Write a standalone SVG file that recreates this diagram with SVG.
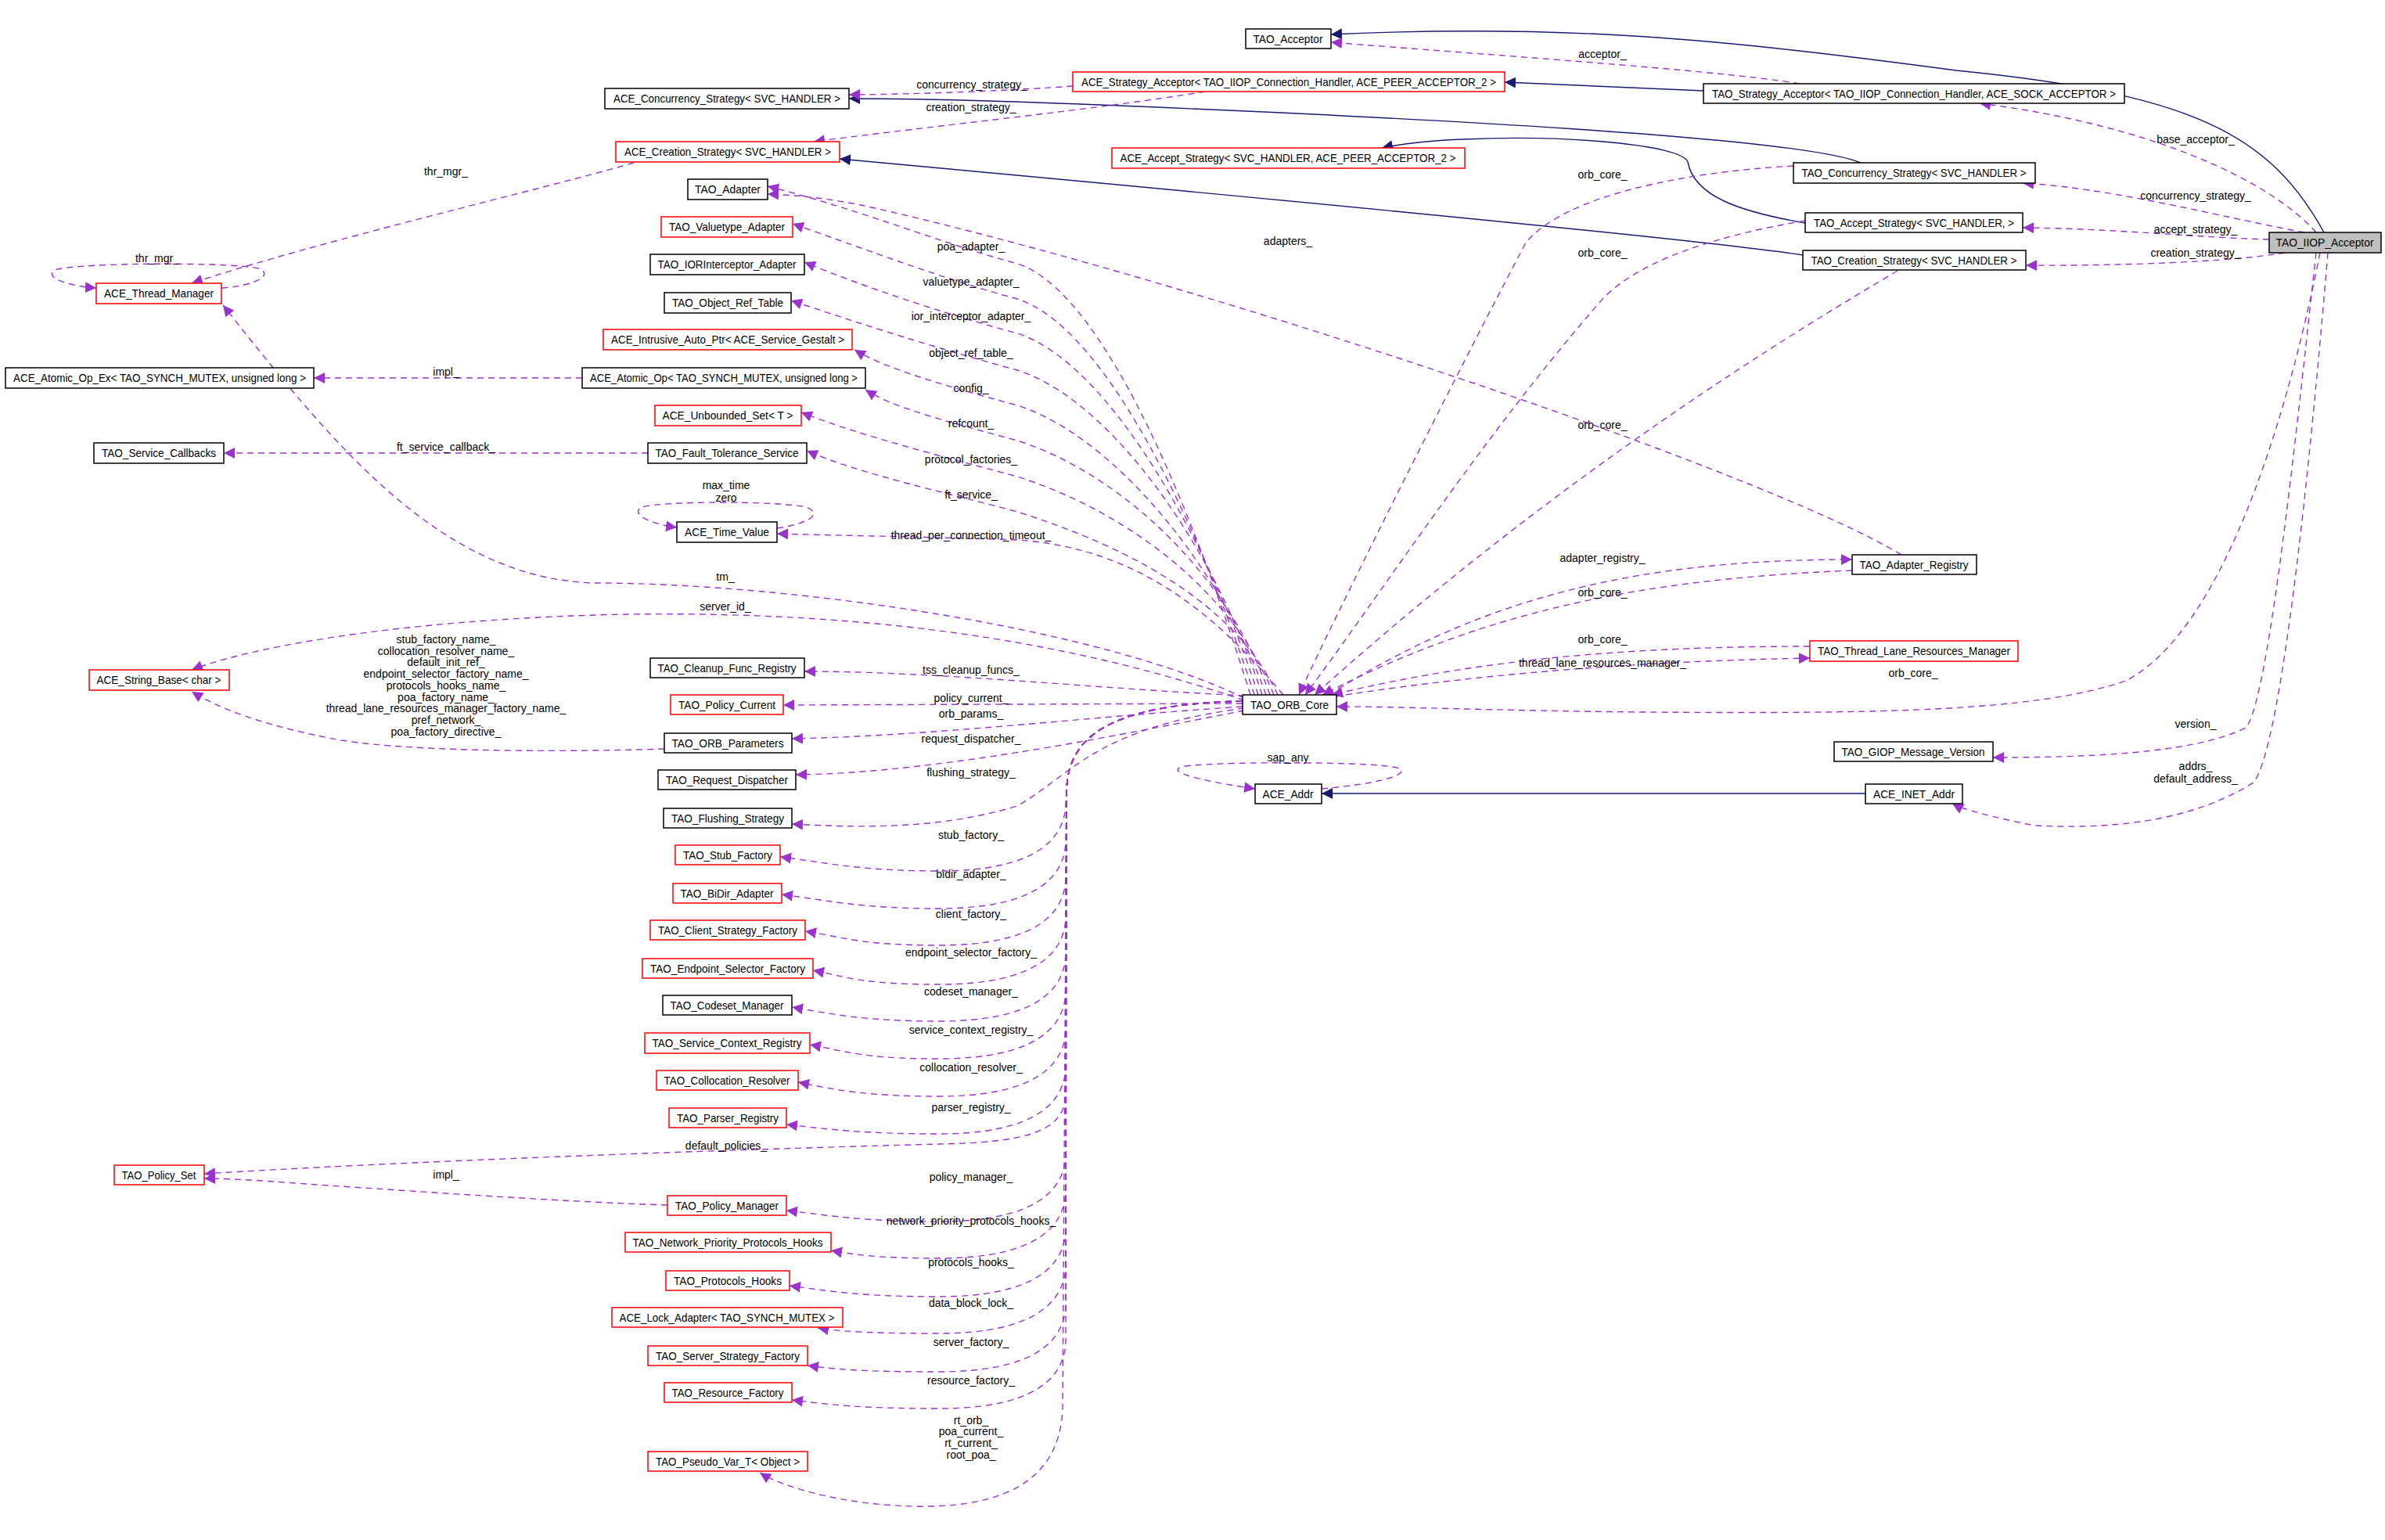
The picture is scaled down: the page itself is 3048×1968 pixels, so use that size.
<svg xmlns="http://www.w3.org/2000/svg" width="3048" height="1968" viewBox="0 0 3048 1968">
<style>
.n rect{fill:#fff;stroke:#000;stroke-width:1.5}
.n.r rect{stroke:#f00}
.n.g rect{fill:#bfbfbf}
.n text{font-family:"Liberation Sans",Arial,sans-serif;font-size:15px;fill:#000;text-anchor:middle}
.e path{fill:none}
.d{stroke:#9a32cd;stroke-width:1.4;stroke-dasharray:8,6;marker-end:url(#ap)}
.s{stroke:#191970;stroke-width:1.4;marker-end:url(#an)}
.l{font-family:"Liberation Sans",Arial,sans-serif;font-size:14px;fill:#000;text-anchor:middle}
</style>
<defs>
<marker id="ap" viewBox="0 0 10 10" refX="10" refY="5" markerWidth="14" markerHeight="14" markerUnits="userSpaceOnUse" orient="auto"><path d="M0,0L10,5L0,10z" fill="#9a32cd"/></marker>
<marker id="an" viewBox="0 0 10 10" refX="10" refY="5" markerWidth="14" markerHeight="14" markerUnits="userSpaceOnUse" orient="auto"><path d="M0,0L10,5L0,10z" fill="#191970"/></marker>
</defs>
<rect width="3048" height="1968" fill="#fff"/>
<g id="edges" class="e">
<path class="s" d="M2970,297 C2900,170 2800,120 2500,90 C2200,50 2000,30 1701,44"/>
<path class="s" d="M2177,116 L1923,105"/>
<path class="s" d="M2378,208 C2300,175 1800,150 1380,133 C1250,128 1150,126 1085,126"/>
<path class="s" d="M2307,285 C2220,270 2165,250 2157,207 C2150,185 2000,172 1870,178 C1820,180 1790,184 1766,189"/>
<path class="s" d="M2304,326 C2200,310 1800,270 1073,203"/>
<path class="s" d="M2384,1014 L1689,1014"/>
<path class="d" d="M2300,107 C2200,90 1900,70 1701,54"/>
<path class="d" d="M1371,110 C1300,115 1200,120 1085,121"/>
<path class="d" d="M1540,117 C1400,140 1200,160 1040,181"/>
<path class="d" d="M2960,297 C2900,230 2750,160 2530,132"/>
<path class="d" d="M2945,297 C2850,280 2700,240 2585,234"/>
<path class="d" d="M2900,306 C2800,303 2700,292 2585,291"/>
<path class="d" d="M2920,323 C2850,335 2700,340 2589,339"/>
<path class="d" d="M2292,212 C2150,220 2000,250 1950,310 C1850,500 1700,800 1660,888"/>
<path class="d" d="M2307,282 C2200,300 2100,330 2050,380 C1900,550 1750,780 1668,888"/>
<path class="d" d="M2425,346 C2300,420 2000,600 1680,888"/>
<path class="d" d="M2430,709 C2250,600 1500,350 1100,262 Q1040,250 981,248"/>
<path class="d" d="M1698,888 C1900,760 2100,715 2367,715"/>
<path class="d" d="M2367,729 C2100,740 1900,780 1690,888"/>
<path class="d" d="M2313,826 C2100,826 1900,840 1702,888"/>
<path class="d" d="M1706,890 C1900,860 2100,845 2313,841"/>
<path class="d" d="M2965,323 C2930,500 2850,800 2717,870 C2600,910 2400,912 2100,910 C1900,908 1800,903 1708,903"/>
<path class="d" d="M2960,323 C2940,500 2900,900 2870,930 C2800,965 2650,968 2547,968"/>
<path class="d" d="M2975,323 C2960,500 2920,950 2880,1000 C2800,1050 2700,1060 2600,1055 C2550,1045 2510,1035 2495,1027"/>
<path class="d" d="M1689,1008 C1780,1000 1810,985 1780,980 C1740,973 1540,973 1510,980 C1485,988 1560,1002 1604,1008"/>
<path class="d" d="M1598,888 C1540,700 1420,375 1300,337 C1200,310 1100,268 981,238"/>
<path class="d" d="M1603,888 C1543,700 1420,420 1300,382 C1200,355 1100,316 1013,286"/>
<path class="d" d="M1608,888 C1548,700 1420,464 1300,426 C1200,399 1100,365 1028,335"/>
<path class="d" d="M1613,888 C1553,700 1420,511 1300,473 C1200,446 1100,414 1011,384"/>
<path class="d" d="M1618,888 C1558,720 1420,556 1300,518 C1200,491 1130,470 1092,447"/>
<path class="d" d="M1623,888 C1563,720 1420,601 1300,563 C1200,536 1140,520 1106,498"/>
<path class="d" d="M1628,888 C1568,740 1420,647 1300,609 C1200,582 1100,557 1024,527"/>
<path class="d" d="M1633,888 C1573,760 1420,692 1300,654 C1200,627 1100,606 1031,576"/>
<path class="d" d="M1640,888 C1550,780 1450,700 1300,690 C1150,685 1050,684 993,682"/>
<path class="d" d="M993,675 C1040,668 1050,655 1030,648 C990,640 850,640 820,648 C805,656 830,670 865,674"/>
<path class="d" d="M744,483 L401,483"/>
<path class="d" d="M828,579 L286,579"/>
<path class="d" d="M810,208 C700,240 400,310 245,362"/>
<path class="d" d="M283,368 C330,365 350,350 330,343 C300,335 100,335 70,345 C55,355 90,366 123,368"/>
<path class="d" d="M1590,892 C1400,800 1000,745 760,745 C560,740 420,560 285,390"/>
<path class="d" d="M1590,895 C1400,830 1150,780 800,785 C550,790 340,820 245,856"/>
<path class="d" d="M849,957 C700,962 500,960 420,943 C330,925 280,905 245,884"/>
<path class="d" d="M1590,889 C1400,880 1200,858 1028,858"/>
<path class="d" d="M1588,899 L1001,901"/>
<path class="d" d="M1588,903 C1400,915 1200,940 1012,944"/>
<path class="d" d="M1590,908 C1450,935 1200,988 1017,990"/>
<path class="d" d="M1590,905 C1400,930 1370,990 1300,1030 C1200,1060 1100,1058 1012,1053"/>
<path class="d" d="M1588,896 C1420,900 1365,940 1363,1010 L1362,1025 C1362,1075 1320,1113 1200,1113 C1100,1113 1060,1103 997,1095"/>
<path class="d" d="M1588,896 C1420,900 1365,940 1363,1010 L1362,1073 C1362,1123 1320,1161 1200,1161 C1100,1161 1060,1151 999,1143"/>
<path class="d" d="M1588,896 C1420,900 1365,940 1363,1010 L1362,1120 C1362,1170 1320,1208 1200,1208 C1100,1208 1080,1198 1029,1190"/>
<path class="d" d="M1588,896 C1420,900 1365,940 1363,1010 L1362,1170 C1362,1220 1320,1258 1200,1258 C1100,1258 1080,1248 1039,1240"/>
<path class="d" d="M1588,896 C1420,900 1365,940 1363,1010 L1362,1217 C1362,1267 1320,1305 1200,1305 C1100,1305 1060,1295 1012,1287"/>
<path class="d" d="M1588,896 C1420,900 1365,940 1363,1010 L1362,1265 C1362,1315 1320,1353 1200,1353 C1100,1353 1080,1343 1035,1335"/>
<path class="d" d="M1588,896 C1420,900 1365,940 1363,1010 L1362,1313 C1362,1363 1320,1401 1200,1401 C1100,1401 1060,1391 1020,1383"/>
<path class="d" d="M1588,896 C1420,900 1365,940 1363,1010 L1362,1361 C1362,1411 1320,1449 1200,1449 C1100,1449 1060,1443 1005,1437"/>
<path class="d" d="M1588,896 C1420,900 1365,940 1363,1010 L1362,1400 C1360,1450 1300,1460 1200,1462 C900,1470 500,1485 261,1500"/>
<path class="d" d="M853,1540 C700,1535 500,1520 420,1515 C350,1510 300,1506 261,1506"/>
<path class="d" d="M1588,896 C1420,900 1365,940 1363,1010 L1362,1473 C1362,1523 1320,1561 1200,1561 C1100,1561 1060,1553 1005,1547"/>
<path class="d" d="M1588,896 C1420,900 1365,940 1363,1010 L1362,1520 C1362,1570 1320,1608 1200,1608 C1120,1608 1090,1603 1062,1598"/>
<path class="d" d="M1588,896 C1420,900 1365,940 1363,1010 L1362,1569 C1362,1619 1320,1657 1200,1657 C1100,1657 1060,1650 1009,1643"/>
<path class="d" d="M1588,896 C1420,900 1365,940 1363,1010 L1362,1615 C1362,1665 1320,1704 1200,1704 C1110,1704 1070,1701 1045,1697"/>
<path class="d" d="M1588,896 C1420,900 1365,940 1363,1010 L1362,1665 C1362,1715 1320,1753 1200,1753 C1100,1753 1070,1750 1032,1745"/>
<path class="d" d="M1588,896 C1420,900 1365,940 1363,1010 L1362,1712 C1362,1762 1320,1800 1200,1800 C1100,1800 1060,1795 1012,1789"/>
<path class="d" d="M1588,896 C1420,900 1365,940 1363,1010 L1358,1800 C1355,1880 1300,1925 1180,1925 C1080,1925 1000,1900 971,1882"/>
</g>
<g id="labels">
<text class="l" x="2048" y="74">acceptor_</text>
<text class="l" x="1242" y="113">concurrency_strategy_</text>
<text class="l" x="1241" y="142">creation_strategy_</text>
<text class="l" x="2806" y="183">base_acceptor_</text>
<text class="l" x="2806" y="255">concurrency_strategy_</text>
<text class="l" x="2806" y="298">accept_strategy_</text>
<text class="l" x="2806" y="328">creation_strategy_</text>
<text class="l" x="2048" y="228">orb_core_</text>
<text class="l" x="2048" y="328">orb_core_</text>
<text class="l" x="2048" y="548">orb_core_</text>
<text class="l" x="1646" y="313">adapters_</text>
<text class="l" x="1241" y="320">poa_adapter_</text>
<text class="l" x="1241" y="365">valuetype_adapter_</text>
<text class="l" x="1241" y="409">ior_interceptor_adapter_</text>
<text class="l" x="1241" y="456">object_ref_table_</text>
<text class="l" x="1241" y="501">config_</text>
<text class="l" x="1241" y="546">refcount_</text>
<text class="l" x="1241" y="592">protocol_factories_</text>
<text class="l" x="1241" y="637">ft_service_</text>
<text class="l" x="1241" y="689">thread_per_connection_timeout_</text>
<text class="l" x="570" y="224">thr_mgr_</text>
<text class="l" x="201" y="335">thr_mgr_</text>
<text class="l" x="570" y="480">impl_</text>
<text class="l" x="570" y="576">ft_service_callback_</text>
<text class="l" x="928" y="625">max_time</text>
<text class="l" x="928" y="641">zero</text>
<text class="l" x="927" y="742">tm_</text>
<text class="l" x="927" y="780">server_id_</text>
<text class="l" x="570" y="822">stub_factory_name_</text>
<text class="l" x="570" y="837">collocation_resolver_name_</text>
<text class="l" x="570" y="851">default_init_ref_</text>
<text class="l" x="570" y="866">endpoint_selector_factory_name_</text>
<text class="l" x="570" y="881">protocols_hooks_name_</text>
<text class="l" x="570" y="896">poa_factory_name_</text>
<text class="l" x="570" y="910">thread_lane_resources_manager_factory_name_</text>
<text class="l" x="570" y="925">pref_network_</text>
<text class="l" x="570" y="940">poa_factory_directive_</text>
<text class="l" x="1241" y="861">tss_cleanup_funcs_</text>
<text class="l" x="1241" y="897">policy_current_</text>
<text class="l" x="1241" y="917">orb_params_</text>
<text class="l" x="1241" y="949">request_dispatcher_</text>
<text class="l" x="1241" y="992">flushing_strategy_</text>
<text class="l" x="1241" y="1072">stub_factory_</text>
<text class="l" x="1241" y="1122">bidir_adapter_</text>
<text class="l" x="1241" y="1173">client_factory_</text>
<text class="l" x="1241" y="1222">endpoint_selector_factory_</text>
<text class="l" x="1241" y="1272">codeset_manager_</text>
<text class="l" x="1241" y="1321">service_context_registry_</text>
<text class="l" x="1241" y="1369">collocation_resolver_</text>
<text class="l" x="1241" y="1420">parser_registry_</text>
<text class="l" x="928" y="1469">default_policies_</text>
<text class="l" x="570" y="1506">impl_</text>
<text class="l" x="1241" y="1509">policy_manager_</text>
<text class="l" x="1241" y="1565">network_priority_protocols_hooks_</text>
<text class="l" x="1241" y="1618">protocols_hooks_</text>
<text class="l" x="1241" y="1670">data_block_lock_</text>
<text class="l" x="1241" y="1720">server_factory_</text>
<text class="l" x="1241" y="1769">resource_factory_</text>
<text class="l" x="1241" y="1820">rt_orb_</text>
<text class="l" x="1241" y="1834">poa_current_</text>
<text class="l" x="1241" y="1849">rt_current_</text>
<text class="l" x="1241" y="1864">root_poa_</text>
<text class="l" x="2048" y="718">adapter_registry_</text>
<text class="l" x="2048" y="762">orb_core_</text>
<text class="l" x="2048" y="822">orb_core_</text>
<text class="l" x="2048" y="852">thread_lane_resources_manager_</text>
<text class="l" x="2445" y="865">orb_core_</text>
<text class="l" x="2806" y="930">version_</text>
<text class="l" x="2806" y="984">addrs_</text>
<text class="l" x="2806" y="1000">default_address_</text>
<text class="l" x="1646" y="973">sap_any</text>
</g>
<g id="TAO_IIOP_Acceptor" class="n g"><rect x="2900" y="297" width="143" height="26"/><text x="2971" y="315" textLength="125" lengthAdjust="spacingAndGlyphs">TAO_IIOP_Acceptor</text></g>
<g id="TAO_Acceptor" class="n"><rect x="1592" y="37" width="109" height="25"/><text x="1646" y="55" textLength="89" lengthAdjust="spacingAndGlyphs">TAO_Acceptor</text></g>
<g id="ACE_Strategy_Acceptor" class="n r"><rect x="1371" y="92" width="552" height="25"/><text x="1647" y="110" textLength="530" lengthAdjust="spacingAndGlyphs">ACE_Strategy_Acceptor&lt; TAO_IIOP_Connection_Handler, ACE_PEER_ACCEPTOR_2 &gt;</text></g>
<g id="TAO_Strategy_Acceptor" class="n"><rect x="2177" y="107" width="538" height="25"/><text x="2446" y="125" textLength="516" lengthAdjust="spacingAndGlyphs">TAO_Strategy_Acceptor&lt; TAO_IIOP_Connection_Handler, ACE_SOCK_ACCEPTOR &gt;</text></g>
<g id="ACE_Concurrency_Strategy" class="n"><rect x="773" y="113" width="312" height="26"/><text x="929" y="131" textLength="290" lengthAdjust="spacingAndGlyphs">ACE_Concurrency_Strategy&lt; SVC_HANDLER &gt;</text></g>
<g id="ACE_Creation_Strategy" class="n r"><rect x="787" y="181" width="286" height="26"/><text x="930" y="199" textLength="264" lengthAdjust="spacingAndGlyphs">ACE_Creation_Strategy&lt; SVC_HANDLER &gt;</text></g>
<g id="ACE_Accept_Strategy" class="n r"><rect x="1421" y="189" width="451" height="26"/><text x="1646" y="207" textLength="429" lengthAdjust="spacingAndGlyphs">ACE_Accept_Strategy&lt; SVC_HANDLER, ACE_PEER_ACCEPTOR_2 &gt;</text></g>
<g id="TAO_Concurrency_Strategy" class="n"><rect x="2292" y="208" width="309" height="26"/><text x="2446" y="226" textLength="287" lengthAdjust="spacingAndGlyphs">TAO_Concurrency_Strategy&lt; SVC_HANDLER &gt;</text></g>
<g id="TAO_Accept_Strategy" class="n"><rect x="2307" y="272" width="278" height="25"/><text x="2446" y="290" textLength="256" lengthAdjust="spacingAndGlyphs">TAO_Accept_Strategy&lt; SVC_HANDLER, &gt;</text></g>
<g id="TAO_Creation_Strategy" class="n"><rect x="2304" y="320" width="285" height="25"/><text x="2446" y="338" textLength="263" lengthAdjust="spacingAndGlyphs">TAO_Creation_Strategy&lt; SVC_HANDLER &gt;</text></g>
<g id="TAO_Adapter" class="n"><rect x="879" y="229" width="102" height="26"/><text x="930" y="247" textLength="84" lengthAdjust="spacingAndGlyphs">TAO_Adapter</text></g>
<g id="TAO_Valuetype_Adapter" class="n r"><rect x="845" y="277" width="168" height="26"/><text x="929" y="295" textLength="148" lengthAdjust="spacingAndGlyphs">TAO_Valuetype_Adapter</text></g>
<g id="TAO_IORInterceptor_Adapter" class="n"><rect x="831" y="325" width="197" height="26"/><text x="929" y="343" textLength="177" lengthAdjust="spacingAndGlyphs">TAO_IORInterceptor_Adapter</text></g>
<g id="TAO_Object_Ref_Table" class="n"><rect x="849" y="374" width="162" height="26"/><text x="930" y="392" textLength="142" lengthAdjust="spacingAndGlyphs">TAO_Object_Ref_Table</text></g>
<g id="ACE_Intrusive_Auto_Ptr" class="n r"><rect x="771" y="421" width="318" height="26"/><text x="930" y="439" textLength="298" lengthAdjust="spacingAndGlyphs">ACE_Intrusive_Auto_Ptr&lt; ACE_Service_Gestalt &gt;</text></g>
<g id="ACE_Atomic_Op" class="n"><rect x="744" y="470" width="362" height="26"/><text x="925" y="488" textLength="342" lengthAdjust="spacingAndGlyphs">ACE_Atomic_Op&lt; TAO_SYNCH_MUTEX, unsigned long &gt;</text></g>
<g id="ACE_Unbounded_Set" class="n r"><rect x="837" y="518" width="187" height="26"/><text x="930" y="536" textLength="167" lengthAdjust="spacingAndGlyphs">ACE_Unbounded_Set&lt; T &gt;</text></g>
<g id="TAO_Fault_Tolerance_Service" class="n"><rect x="828" y="566" width="203" height="26"/><text x="929" y="584" textLength="183" lengthAdjust="spacingAndGlyphs">TAO_Fault_Tolerance_Service</text></g>
<g id="ACE_Time_Value" class="n"><rect x="865" y="667" width="128" height="26"/><text x="929" y="685" textLength="108" lengthAdjust="spacingAndGlyphs">ACE_Time_Value</text></g>
<g id="ACE_Thread_Manager" class="n r"><rect x="123" y="362" width="160" height="26"/><text x="203" y="380" textLength="140" lengthAdjust="spacingAndGlyphs">ACE_Thread_Manager</text></g>
<g id="ACE_Atomic_Op_Ex" class="n"><rect x="7" y="470" width="394" height="26"/><text x="204" y="488" textLength="374" lengthAdjust="spacingAndGlyphs">ACE_Atomic_Op_Ex&lt; TAO_SYNCH_MUTEX, unsigned long &gt;</text></g>
<g id="TAO_Service_Callbacks" class="n"><rect x="120" y="566" width="166" height="26"/><text x="203" y="584" textLength="146" lengthAdjust="spacingAndGlyphs">TAO_Service_Callbacks</text></g>
<g id="TAO_Adapter_Registry" class="n"><rect x="2367" y="709" width="159" height="25"/><text x="2446" y="727" textLength="139" lengthAdjust="spacingAndGlyphs">TAO_Adapter_Registry</text></g>
<g id="TAO_Thread_Lane_Resources_Manager" class="n r"><rect x="2313" y="819" width="266" height="26"/><text x="2446" y="837" textLength="246" lengthAdjust="spacingAndGlyphs">TAO_Thread_Lane_Resources_Manager</text></g>
<g id="TAO_ORB_Core" class="n"><rect x="1588" y="888" width="120" height="25"/><text x="1648" y="906" textLength="100" lengthAdjust="spacingAndGlyphs">TAO_ORB_Core</text></g>
<g id="ACE_String_Base" class="n r"><rect x="114" y="856" width="179" height="26"/><text x="203" y="874" textLength="159" lengthAdjust="spacingAndGlyphs">ACE_String_Base&lt; char &gt;</text></g>
<g id="TAO_Cleanup_Func_Registry" class="n"><rect x="831" y="841" width="197" height="25"/><text x="929" y="859" textLength="177" lengthAdjust="spacingAndGlyphs">TAO_Cleanup_Func_Registry</text></g>
<g id="TAO_Policy_Current" class="n r"><rect x="857" y="888" width="144" height="25"/><text x="929" y="906" textLength="124" lengthAdjust="spacingAndGlyphs">TAO_Policy_Current</text></g>
<g id="TAO_ORB_Parameters" class="n"><rect x="849" y="937" width="163" height="25"/><text x="930" y="955" textLength="143" lengthAdjust="spacingAndGlyphs">TAO_ORB_Parameters</text></g>
<g id="TAO_Request_Dispatcher" class="n"><rect x="841" y="984" width="176" height="25"/><text x="929" y="1002" textLength="156" lengthAdjust="spacingAndGlyphs">TAO_Request_Dispatcher</text></g>
<g id="TAO_Flushing_Strategy" class="n"><rect x="848" y="1033" width="164" height="25"/><text x="930" y="1051" textLength="144" lengthAdjust="spacingAndGlyphs">TAO_Flushing_Strategy</text></g>
<g id="TAO_Stub_Factory" class="n r"><rect x="863" y="1080" width="134" height="25"/><text x="930" y="1098" textLength="114" lengthAdjust="spacingAndGlyphs">TAO_Stub_Factory</text></g>
<g id="TAO_BiDir_Adapter" class="n r"><rect x="860" y="1129" width="139" height="25"/><text x="929" y="1147" textLength="119" lengthAdjust="spacingAndGlyphs">TAO_BiDir_Adapter</text></g>
<g id="TAO_Client_Strategy_Factory" class="n r"><rect x="831" y="1176" width="198" height="25"/><text x="930" y="1194" textLength="178" lengthAdjust="spacingAndGlyphs">TAO_Client_Strategy_Factory</text></g>
<g id="TAO_Endpoint_Selector_Factory" class="n r"><rect x="821" y="1225" width="218" height="25"/><text x="930" y="1243" textLength="198" lengthAdjust="spacingAndGlyphs">TAO_Endpoint_Selector_Factory</text></g>
<g id="TAO_Codeset_Manager" class="n"><rect x="847" y="1272" width="165" height="25"/><text x="929" y="1290" textLength="145" lengthAdjust="spacingAndGlyphs">TAO_Codeset_Manager</text></g>
<g id="TAO_Service_Context_Registry" class="n r"><rect x="824" y="1320" width="211" height="26"/><text x="929" y="1338" textLength="191" lengthAdjust="spacingAndGlyphs">TAO_Service_Context_Registry</text></g>
<g id="TAO_Collocation_Resolver" class="n r"><rect x="839" y="1368" width="181" height="25"/><text x="929" y="1386" textLength="161" lengthAdjust="spacingAndGlyphs">TAO_Collocation_Resolver</text></g>
<g id="TAO_Parser_Registry" class="n r"><rect x="855" y="1416" width="150" height="25"/><text x="930" y="1434" textLength="130" lengthAdjust="spacingAndGlyphs">TAO_Parser_Registry</text></g>
<g id="TAO_Policy_Set" class="n r"><rect x="146" y="1489" width="115" height="25"/><text x="203" y="1507" textLength="95" lengthAdjust="spacingAndGlyphs">TAO_Policy_Set</text></g>
<g id="TAO_Policy_Manager" class="n r"><rect x="853" y="1528" width="152" height="25"/><text x="929" y="1546" textLength="132" lengthAdjust="spacingAndGlyphs">TAO_Policy_Manager</text></g>
<g id="TAO_Network_Priority_Protocols_Hooks" class="n r"><rect x="799" y="1575" width="263" height="25"/><text x="930" y="1593" textLength="243" lengthAdjust="spacingAndGlyphs">TAO_Network_Priority_Protocols_Hooks</text></g>
<g id="TAO_Protocols_Hooks" class="n r"><rect x="851" y="1624" width="158" height="25"/><text x="930" y="1642" textLength="138" lengthAdjust="spacingAndGlyphs">TAO_Protocols_Hooks</text></g>
<g id="ACE_Lock_Adapter" class="n r"><rect x="782" y="1671" width="295" height="25"/><text x="929" y="1689" textLength="275" lengthAdjust="spacingAndGlyphs">ACE_Lock_Adapter&lt; TAO_SYNCH_MUTEX &gt;</text></g>
<g id="TAO_Server_Strategy_Factory" class="n r"><rect x="828" y="1720" width="204" height="25"/><text x="930" y="1738" textLength="184" lengthAdjust="spacingAndGlyphs">TAO_Server_Strategy_Factory</text></g>
<g id="TAO_Resource_Factory" class="n r"><rect x="849" y="1767" width="163" height="25"/><text x="930" y="1785" textLength="143" lengthAdjust="spacingAndGlyphs">TAO_Resource_Factory</text></g>
<g id="TAO_Pseudo_Var_T" class="n r"><rect x="828" y="1855" width="204" height="25"/><text x="930" y="1873" textLength="184" lengthAdjust="spacingAndGlyphs">TAO_Pseudo_Var_T&lt; Object &gt;</text></g>
<g id="TAO_GIOP_Message_Version" class="n"><rect x="2344" y="948" width="203" height="25"/><text x="2445" y="966" textLength="183" lengthAdjust="spacingAndGlyphs">TAO_GIOP_Message_Version</text></g>
<g id="ACE_INET_Addr" class="n"><rect x="2384" y="1002" width="124" height="25"/><text x="2446" y="1020" textLength="104" lengthAdjust="spacingAndGlyphs">ACE_INET_Addr</text></g>
<g id="ACE_Addr" class="n"><rect x="1604" y="1002" width="85" height="25"/><text x="1646" y="1020" textLength="65" lengthAdjust="spacingAndGlyphs">ACE_Addr</text></g>
</svg>
